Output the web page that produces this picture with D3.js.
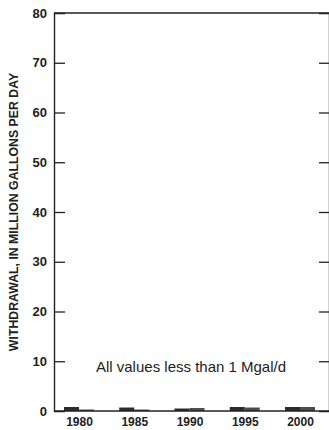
<!DOCTYPE html>
<html><head><meta charset="utf-8">
<script src="https://cdn.jsdelivr.net/npm/d3@7"></script>
<style>body{margin:0;background:#fff}svg{display:block}</style>
</head><body>
<svg id="c" width="329" height="430"></svg>
<script>
const years = ["1980","1985","1990","1995","2000"];
const series1 = [0.8, 0.7, 0.5, 0.8, 0.8];
const series2 = [0.3, 0.3, 0.6, 0.7, 0.8];
const yTicks = [0,10,20,30,40,50,60,70,80];
const yLabel = "WITHDRAWAL, IN MILLION GALLONS PER DAY";
const note = "All values less than 1 Mgal/d";

const svg = d3.select("#c");
const L = 54, R = 329, T = 13, B = 411;
const x = d3.scalePoint().domain(years).range([79, 300]);
const y = d3.scaleLinear().domain([0, 80]).range([B, T]);
const bw = 15;

const g = svg.append("g");
g.selectAll(".b1").data(years).join("rect")
  .attr("x", d => x(d) - bw).attr("width", bw)
  .attr("y", (d,i) => y(series1[i])).attr("height", (d,i) => y(0) - y(series1[i]))
  .attr("fill", "#2b2b2b");
g.selectAll(".b2").data(years).join("rect")
  .attr("x", d => x(d)).attr("width", bw)
  .attr("y", (d,i) => y(series2[i])).attr("height", (d,i) => y(0) - y(series2[i]))
  .attr("fill", "#4d4d4d");

const font = "'Liberation Sans', Arial, Helvetica, sans-serif";

const ya = svg.append("g").attr("transform", `translate(${L},0)`)
  .call(d3.axisLeft(y).tickValues(yTicks).tickSize(-11).tickPadding(7));
ya.select(".domain").attr("stroke", "#222").attr("stroke-width", 1.4);
ya.selectAll(".tick line").attr("stroke", "#222").attr("stroke-width", 1.3);
ya.selectAll(".tick line").filter(d => d === 0 || d === 80).remove();
ya.selectAll("text").attr("font-family", font).attr("font-weight", "bold")
  .attr("font-size", 13).attr("fill", "#222");

const yr = svg.append("g").attr("transform", `translate(${R},0)`)
  .call(d3.axisRight(y).tickValues(yTicks).tickSize(-10).tickFormat(""));
yr.select(".domain").attr("stroke", "#222").attr("stroke-width", 1.4);
yr.selectAll(".tick line").attr("stroke", "#222").attr("stroke-width", 1.3);
yr.selectAll(".tick line").filter(d => d === 0 || d === 80).remove();

svg.append("line").attr("x1", L).attr("x2", R).attr("y1", T).attr("y2", T)
  .attr("stroke", "#222").attr("stroke-width", 1.4);

const xa = svg.append("g").attr("transform", `translate(0,${B})`)
  .call(d3.axisBottom(x).tickSize(0).tickPadding(6));
xa.select(".domain").remove();
svg.append("line").attr("x1", L).attr("x2", R).attr("y1", B).attr("y2", B)
  .attr("stroke", "#222").attr("stroke-width", 1.5);
xa.selectAll("text").attr("font-family", font).attr("font-weight", "bold")
  .attr("font-size", 12).attr("fill", "#222");

svg.append("text").attr("transform", `translate(18,212) rotate(-90)`)
  .attr("text-anchor", "middle").attr("font-family", font).attr("font-weight", "bold")
  .attr("font-size", 12.3).attr("fill", "#222").text(yLabel);

svg.append("text").attr("x", 191).attr("y", 372).attr("text-anchor", "middle")
  .attr("font-family", font).attr("font-size", 15).attr("fill", "#222").text(note);
</script>
</body></html>
